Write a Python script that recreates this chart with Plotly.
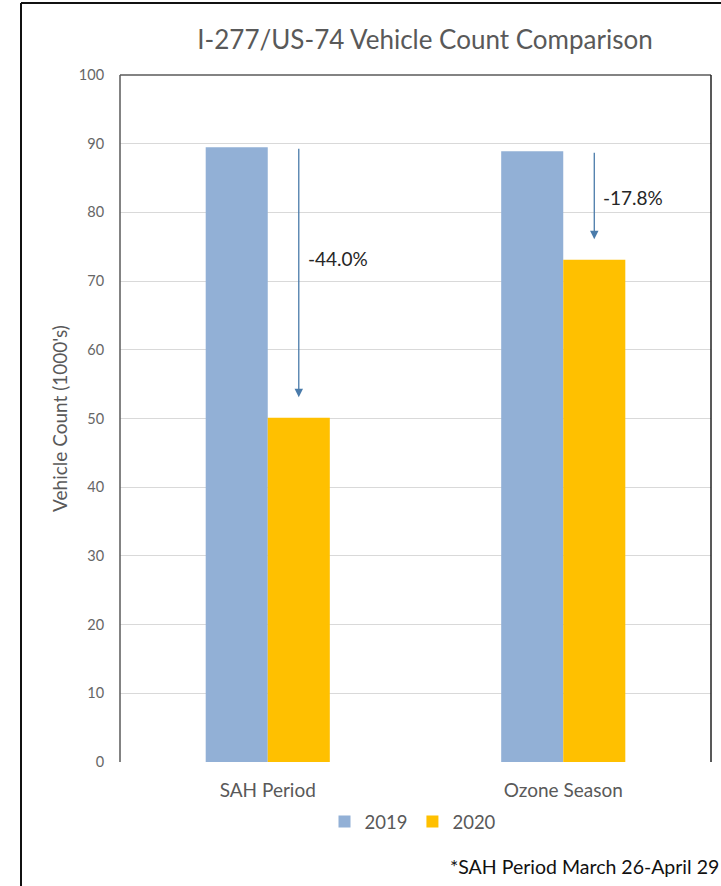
import plotly.graph_objects as go

categories = ["SAH Period", "Ozone Season"]
years = ["2019", "2020"]
values_2019 = [89.5, 88.9]
values_2020 = [50.1, 73.1]
y_ticks = [0, 10, 20, 30, 40, 50, 60, 70, 80, 90, 100]

title_text = "I-277/US-74 Vehicle Count Comparison"
y_title = "Vehicle Count (1000's)"
footnote = "*SAH Period March 26-April 29"

color_2019 = "#92B0D6"
color_2020 = "#FFC000"
arrow_color = "#4A7BAA"
FONT = "Lato, 'Noto Sans', sans-serif"

W, H = 721, 886
ML, MR, MT, MB = 120, 10, 75, 124
pw = W - ML - MR
ph = H - MT - MB

bargap = 0.58
bar_w = (1 - bargap) / 2

fig = go.Figure()
fig.add_trace(go.Bar(x=categories, y=values_2019, name=years[0],
                     marker=dict(color=color_2019, line=dict(width=0))))
fig.add_trace(go.Bar(x=categories, y=values_2020, name=years[1],
                     marker=dict(color=color_2020, line=dict(width=0))))

annotations = []
for i, (a, b) in enumerate(zip(values_2019, values_2020)):
    xc = i + bar_w / 2  # center of the 2020 bar
    pct = (b / a - 1) * 100
    annotations.append(dict(
        x=xc, y=b + 3.0, ax=xc, ay=a, xref="x", yref="y", axref="x", ayref="y",
        showarrow=True, arrowhead=2, arrowsize=1.3, arrowwidth=1.3,
        arrowcolor=arrow_color, text=""))
    label_y = a - (a - b) * (0.41 if i == 0 else 0.43)
    annotations.append(dict(
        x=xc, y=label_y, xref="x", yref="y", text=f"{pct:.1f}%",
        showarrow=False, xanchor="left", xshift=7, yanchor="middle",
        font=dict(family=FONT, size=19, color="#262626")))

annotations.append(dict(
    x=(W - ML) / pw, y=((H - MB) - 866) / ph, xref="paper", yref="paper",
    text=footnote, showarrow=False, xanchor="right", yanchor="middle",
    font=dict(family=FONT, size=19.5, color="#111111")))

dark = "#5a5a5a"
shapes = [
    dict(type="line", xref="paper", yref="paper", x0=0, x1=0, y0=0, y1=1,
         line=dict(color=dark, width=1.5)),
    dict(type="line", xref="paper", yref="paper", x0=0, x1=1, y0=1, y1=1,
         line=dict(color=dark, width=1.5)),
    dict(type="line", xref="paper", yref="paper", x0=1, x1=1, y0=0, y1=1,
         line=dict(color="#222222", width=1.5)),
    dict(type="line", xref="paper", yref="paper",
         x0=(21 - ML) / pw, x1=(21 - ML) / pw, y0=(H - MB - H) / ph, y1=(H - MB - 3) / ph,
         line=dict(color="#111111", width=2)),
    dict(type="line", xref="paper", yref="paper",
         x0=(21 - ML) / pw, x1=(W - ML) / pw, y0=(H - MB - 3) / ph, y1=(H - MB - 3) / ph,
         line=dict(color="#111111", width=2)),
]

fig.update_layout(
    width=W, height=H,
    margin=dict(l=ML, r=MR, t=MT, b=MB, pad=0),
    paper_bgcolor="white", plot_bgcolor="white",
    barmode="group", bargap=bargap, bargroupgap=0,
    title=dict(text=title_text, x=425 / W,
               xanchor="center", y=1 - 40 / H, yanchor="middle",
               font=dict(family=FONT, size=26, color="#595959")),
    font=dict(family=FONT, color="#595959"),
    xaxis=dict(type="category", range=[-0.5, 1.5], showgrid=False, showline=False,
               ticks="outside", ticklen=11, tickcolor="rgba(0,0,0,0)",
               tickfont=dict(family=FONT, size=19, color="#595959")),
    yaxis=dict(range=[0, 100], tickvals=y_ticks, showline=False, zeroline=False,
               gridcolor="#d9d9d9", gridwidth=1,
               ticks="outside", ticklen=12, tickcolor="rgba(0,0,0,0)",
               tickfont=dict(family=FONT, size=14.5, color="#666666"),
               title=dict(text=y_title, standoff=6,
                          font=dict(family=FONT, size=19, color="#595959"))),
    legend=dict(orientation="h", x=(413 - ML) / pw, xanchor="center",
                y=(H - MB - 822) / ph, yanchor="middle",
                font=dict(family=FONT, size=18.5, color="#595959"),
                itemwidth=30, tracegroupgap=0),
    shapes=shapes,
    annotations=annotations,
)

fig.write_html("out.html", config={"displayModeBar": False},
               post_script="document.body.style.margin='0';")
